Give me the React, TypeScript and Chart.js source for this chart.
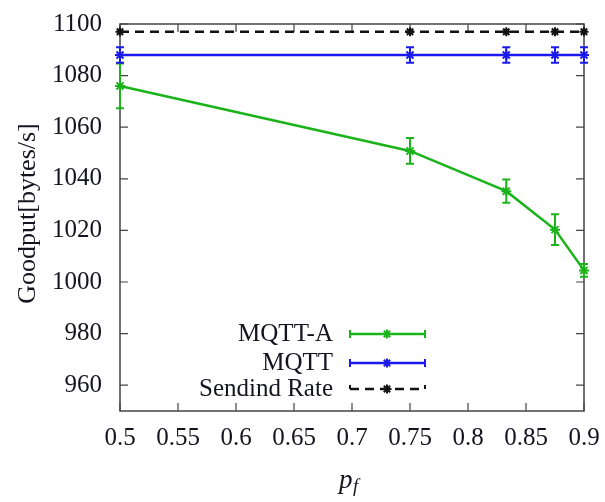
import React, { useEffect, useRef } from 'react';
import { Chart, registerables } from 'chart.js';

Chart.register(...registerables);

const pfValues = [0.5, 0.75, 0.833, 0.875, 0.9];
const mqttA = [1076, 1050.8, 1035.2, 1020.3, 1004.5];
const mqttAErr = [8.7, 5, 4.5, 6, 2.5];
const mqtt = [1088, 1088, 1088, 1088, 1088];
const mqttErr = [3, 3, 3, 3, 3];
const sendingRate = [1097, 1097, 1097, 1097, 1097];
const seriesLabels = ['MQTT-A', 'MQTT', 'Sendind Rate'];
const xTicks = [0.5, 0.55, 0.6, 0.65, 0.7, 0.75, 0.8, 0.85, 0.9];
const yTicks = [960, 980, 1000, 1020, 1040, 1060, 1080, 1100];
const yTitle = 'Goodput[bytes/s]';
const xTitleMain = 'p';
const xTitleSub = 'f';

const GREEN = '#1ab41a';
const BLUE = '#1a1aee';
const BLACK = '#111111';
const FRAME = '#444444';
const TEXT = '#141420';
const FONT = '"Liberation Serif", "Times New Roman", serif';

const errorBarPlugin = {
  id: 'errorBars',
  afterDatasetsDraw(chart: any) {
    const ctx = chart.ctx;
    const xs = chart.scales.x;
    const ys = chart.scales.y;
    chart.data.datasets.forEach((ds: any) => {
      if (!ds.errors) return;
      ctx.save();
      ctx.strokeStyle = ds.borderColor;
      ctx.lineWidth = 2;
      ctx.setLineDash([]);
      ds.data.forEach((p: any, i: number) => {
        const e = ds.errors[i];
        const px = xs.getPixelForValue(p.x);
        const top = ys.getPixelForValue(p.y + e);
        const bot = ys.getPixelForValue(p.y - e);
        ctx.beginPath();
        ctx.moveTo(px, top);
        ctx.lineTo(px, bot);
        ctx.moveTo(px - 4, top);
        ctx.lineTo(px + 4, top);
        ctx.moveTo(px - 4, bot);
        ctx.lineTo(px + 4, bot);
        ctx.stroke();
      });
      ctx.restore();
    });
  },
};

const framePlugin = {
  id: 'frame',
  beforeDatasetsDraw(chart: any) {
    const ctx = chart.ctx;
    const { left, right, top, bottom } = chart.chartArea;
    const xs = chart.scales.x;
    const ys = chart.scales.y;
    ctx.save();
    ctx.strokeStyle = FRAME;
    ctx.lineWidth = 1.5;
    ctx.strokeRect(left, top, right - left, bottom - top);
    ctx.lineWidth = 1.2;
    ctx.beginPath();
    xTicks.forEach((v) => {
      const px = xs.getPixelForValue(v);
      ctx.moveTo(px, bottom);
      ctx.lineTo(px, bottom - 8);
      ctx.moveTo(px, top);
      ctx.lineTo(px, top + 8);
    });
    yTicks.forEach((v) => {
      const py = ys.getPixelForValue(v);
      ctx.moveTo(left, py);
      ctx.lineTo(left + 8, py);
      ctx.moveTo(right, py);
      ctx.lineTo(right - 8, py);
    });
    ctx.stroke();
    ctx.restore();
  },
};

const textPlugin = {
  id: 'texts',
  afterDraw(chart: any) {
    const ctx = chart.ctx;
    const { left, right, top, bottom } = chart.chartArea;
    ctx.save();
    ctx.fillStyle = TEXT;
    ctx.font = `26px ${FONT}`;
    ctx.textAlign = 'center';
    ctx.textBaseline = 'middle';
    ctx.translate(28, (top + bottom) / 2 - 4);
    ctx.rotate(-Math.PI / 2);
    ctx.fillText(yTitle, 0, 0);
    ctx.restore();

    ctx.save();
    ctx.fillStyle = TEXT;
    ctx.textBaseline = 'alphabetic';
    ctx.textAlign = 'left';
    ctx.font = `italic 27px ${FONT}`;
    const cx = (left + right) / 2;
    ctx.fillText(xTitleMain, cx - 13, 488);
    ctx.font = `italic 19px ${FONT}`;
    ctx.fillText(xTitleSub, cx + 1, 492);
    ctx.restore();

    const rows = [334, 363, 389];
    const ds = chart.data.datasets;
    ctx.save();
    ds.forEach((d: any, i: number) => {
      const y = rows[i];
      ctx.fillStyle = TEXT;
      ctx.font = `25px ${FONT}`;
      ctx.textAlign = 'right';
      ctx.textBaseline = 'middle';
      ctx.fillText(seriesLabels[i], 333, y);
      const x0 = 350;
      const x1 = 425;
      ctx.strokeStyle = d.borderColor;
      ctx.lineWidth = 2.5;
      ctx.setLineDash(d.borderDash || []);
      ctx.beginPath();
      ctx.moveTo(x0, y);
      ctx.lineTo(x1, y);
      ctx.stroke();
      ctx.setLineDash([]);
      ctx.lineWidth = 2;
      ctx.beginPath();
      if (d.errors) {
        ctx.moveTo(x0, y - 4);
        ctx.lineTo(x0, y + 4);
        ctx.moveTo(x1, y - 4);
        ctx.lineTo(x1, y + 4);
      } else {
        ctx.moveTo(x0, y);
        ctx.lineTo(x0, y - 4);
        ctx.moveTo(x1, y);
        ctx.lineTo(x1, y - 4);
      }
      ctx.stroke();
      const mx = 387;
      const r = 4.5;
      ctx.lineWidth = 2;
      ctx.beginPath();
      for (let k = 0; k < 4; k++) {
        const a = (k * Math.PI) / 4;
        ctx.moveTo(mx - r * Math.cos(a), y - r * Math.sin(a));
        ctx.lineTo(mx + r * Math.cos(a), y + r * Math.sin(a));
      }
      ctx.stroke();
    });
    ctx.restore();
  },
};

function toPoints(vals: number[]) {
  return pfValues.map((x, i) => ({ x, y: vals[i] }));
}

export default function App() {
  const ref = useRef<HTMLCanvasElement>(null);
  useEffect(() => {
    document.body.style.margin = '0';
    const canvas = ref.current!;
    const chart = new Chart(canvas, {
      type: 'line',
      data: {
        datasets: [
          {
            label: seriesLabels[0],
            data: toPoints(mqttA),
            borderColor: GREEN,
            backgroundColor: GREEN,
            borderWidth: 2.5,
            pointStyle: 'star',
            pointRadius: 5,
            pointBorderWidth: 2,
            clip: false,
            errors: mqttAErr,
          } as any,
          {
            label: seriesLabels[1],
            data: toPoints(mqtt),
            borderColor: BLUE,
            backgroundColor: BLUE,
            borderWidth: 2.5,
            pointStyle: 'star',
            pointRadius: 5,
            pointBorderWidth: 2,
            clip: false,
            errors: mqttErr,
          } as any,
          {
            label: seriesLabels[2],
            data: toPoints(sendingRate),
            borderColor: BLACK,
            backgroundColor: BLACK,
            borderWidth: 2.5,
            borderDash: [9, 6],
            pointStyle: 'star',
            pointRadius: 4.5,
            pointBorderWidth: 2,
            clip: false,
          } as any,
        ],
      },
      options: {
        animation: false,
        responsive: false,
        maintainAspectRatio: false,
        layout: { padding: { left: 0, right: 21, top: 24, bottom: 0 } },
        plugins: {
          legend: { display: false },
          tooltip: { enabled: false },
        },
        scales: {
          x: {
            type: 'linear',
            min: 0.5,
            max: 0.9,
            grid: { display: false, drawTicks: false },
            border: { display: false },
            afterBuildTicks: (s: any) => {
              s.ticks = xTicks.map((v) => ({ value: v }));
            },
            afterFit: (s: any) => {
              s.height = 91;
              s.paddingLeft = 0;
              s.paddingRight = 0;
              s.paddingTop = 0;
              s.paddingBottom = 0;
            },
            ticks: {
              padding: 12,
              color: TEXT,
              font: { family: FONT, size: 25 },
              maxRotation: 0,
              autoSkip: false,
              callback: (v: any) => String(Number(Number(v).toFixed(2))),
            },
          },
          y: {
            type: 'linear',
            min: 950,
            max: 1100,
            grid: { display: false, drawTicks: false },
            border: { display: false },
            afterBuildTicks: (s: any) => {
              s.ticks = yTicks.map((v) => ({ value: v }));
            },
            afterFit: (s: any) => {
              s.width = 120;
              s.paddingLeft = 0;
              s.paddingRight = 0;
              s.paddingTop = 0;
              s.paddingBottom = 0;
            },
            ticks: {
              padding: 18,
              color: TEXT,
              font: { family: FONT, size: 25 },
              autoSkip: false,
              callback: (v: any) => String(v),
            },
          },
        },
      },
      plugins: [framePlugin, errorBarPlugin, textPlugin],
    });
    return () => chart.destroy();
  }, []);
  return (
    <div style={{ width: 605, height: 502 }}>
      <canvas ref={ref} width={605} height={502} style={{ display: 'block' }} />
    </div>
  );
}
